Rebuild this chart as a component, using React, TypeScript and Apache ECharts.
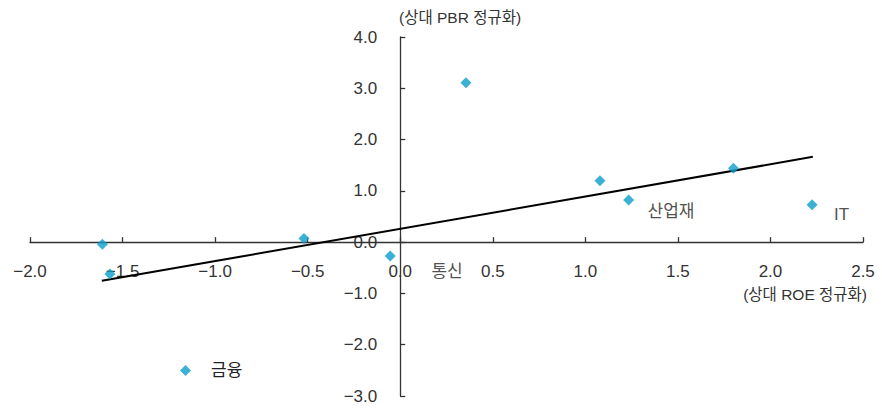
import React, { useEffect, useRef } from "react";
import * as echarts from "echarts";

// Scatter points (relative ROE, relative PBR)
const roeValues = [-1.609, -1.568, -0.52, -0.054, 0.355, 1.079, 1.234, 1.8, 2.225];
const pbrValues = [-0.04, -0.62, 0.07, -0.27, 3.11, 1.195, 0.82, 1.44, 0.73];

// Trend line end points
const trendX = [-1.612, 2.229];
const trendY = [-0.754, 1.663];

// Annotations (text placed in data coordinates)
const noteTexts = ["산업재", "IT", "통신"];
const noteX = [1.463, 2.384, 0.253];
const noteY = [0.59, 0.546, -0.58];

const seriesName = "금융";
const xTitle = "(상대 ROE 정규화)";
const yTitle = "(상대 PBR 정규화)";

const X_MIN = -2;
const X_MAX = 2.5;
const Y_MIN = -3;
const Y_MAX = 4;

const FONT = "'Liberation Sans', 'Noto Sans CJK KR', sans-serif";
const fmt = (v: number) => (v < 0 ? "\u2212" + Math.abs(v).toFixed(1) : v.toFixed(1));

const W = 882;
const H = 408;
const GRID = { left: 30, right: 19, top: 37, bottom: 12 };
const MARK = "#0a9fcb";

export default function App() {
  const ref = useRef<HTMLDivElement>(null);
  useEffect(() => {
    if (!ref.current) return;
    const chart = echarts.init(ref.current, undefined, { renderer: "svg" });
    const plotW = W - GRID.left - GRID.right;
    const plotH = H - GRID.top - GRID.bottom;
    // shift axes so that they cross at the origin (moves line, ticks and labels together)
    const yOffset = -((0 - X_MIN) / (X_MAX - X_MIN)) * plotW;
    const xOffset = -((0 - Y_MIN) / (Y_MAX - Y_MIN)) * plotH;
    const axisCommon = {
      axisLine: { onZero: false, lineStyle: { color: "#333", width: 1.3 } },
      axisTick: { show: true, inside: true, length: 5, lineStyle: { color: "#333", width: 1.3 } },
      splitLine: { show: false },
    };
    chart.setOption({
      animation: false,
      backgroundColor: "#fff",
      grid: { ...GRID, containLabel: false, outerBoundsMode: "none" },
      legend: {
        data: [seriesName],
        left: 180,
        top: 362,
        padding: 0,
        icon: "diamond",
        itemWidth: 11,
        itemHeight: 11,
        itemStyle: { color: MARK },
        textStyle: { fontFamily: FONT, fontSize: 17, color: "#222", padding: [0, 0, 0, 15] },
      },
      xAxis: {
        type: "value",
        position: "bottom",
        offset: xOffset,
        min: X_MIN,
        max: X_MAX,
        interval: 0.5,
        ...axisCommon,
        axisLabel: { margin: 21, fontSize: 17, color: "#333", fontFamily: FONT, formatter: fmt, showMinLabel: true, showMaxLabel: true, hideOverlap: false },
      },
      yAxis: {
        type: "value",
        position: "left",
        offset: yOffset,
        min: Y_MIN,
        max: Y_MAX,
        interval: 1,
        ...axisCommon,
        axisLabel: { margin: 23, fontSize: 17, color: "#333", fontFamily: FONT, formatter: fmt, showMinLabel: true, showMaxLabel: true, hideOverlap: false },
      },
      graphic: [
        {
          type: "text",
          left: 399,
          top: 10,
          style: { text: yTitle, fontFamily: FONT, fontSize: 15.5, fill: "#333" },
        },
        {
          type: "text",
          right: 15,
          top: 287,
          style: { text: xTitle, fontFamily: FONT, fontSize: 15.5, fill: "#333" },
        },
      ],
      series: [
        {
          type: "line",
          data: trendX.map((x, i) => [x, trendY[i]]),
          symbol: "none",
          lineStyle: { color: "#000", width: 2 },
          silent: true,
          z: 2,
        },
        {
          name: seriesName,
          type: "scatter",
          symbol: "diamond",
          symbolSize: 11,
          itemStyle: { color: MARK },
          data: roeValues.map((x, i) => [x, pbrValues[i]]),
          z: 3,
        },
        {
          type: "scatter",
          symbolSize: 0,
          silent: true,
          data: noteTexts.map((t, i) => ({ name: t, value: [noteX[i], noteY[i]] })),
          label: {
            show: true,
            position: "inside",
            formatter: "{b}",
            fontFamily: FONT,
            fontSize: 17,
            color: "#222",
          },
          z: 4,
        },
      ],
    });
    return () => chart.dispose();
  }, []);
  return (
    <div
      ref={ref}
      style={{ position: "fixed", left: 0, top: 0, width: W, height: H, background: "#fff" }}
    />
  );
}
